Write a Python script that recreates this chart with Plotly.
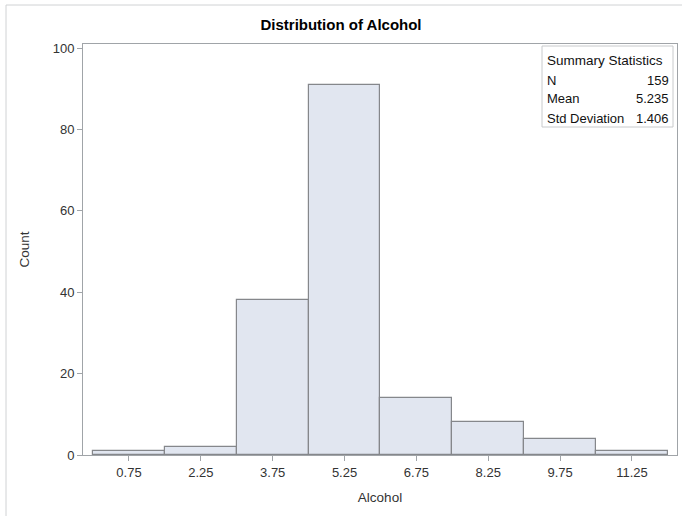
import plotly.graph_objects as go

bin_mids = [0.75, 2.25, 3.75, 5.25, 6.75, 8.25, 9.75, 11.25]
counts = [1, 2, 38, 91, 14, 8, 4, 1]
bin_width = 1.5
tick_labels = ["0.75", "2.25", "3.75", "5.25", "6.75", "8.25", "9.75", "11.25"]
stat_names = ["N", "Mean", "Std Deviation"]
stat_values = ["159", "5.235", "1.406"]

W, H = 682, 516
L, R, T, B = 83, 682 - 677, 44, 516 - 455
pw, ph = W - L - R, H - T - B

def px(x):
    return (x - L) / pw

def py(y):
    return (H - B - y) / ph

fig = go.Figure()
fig.add_trace(go.Bar(
    x=bin_mids, y=counts, width=[bin_width] * len(counts),
    marker=dict(color="#E1E6F0", line=dict(color="#85878B", width=1.2)),
    showlegend=False, hoverinfo="x+y",
))

font = "Liberation Sans, Arial, sans-serif"
axis_common = dict(
    showgrid=False, zeroline=False, showline=True, linecolor="#A0A4A8", linewidth=1,
    mirror=True, ticks="outside", ticklen=5, tickcolor="#A0A4A8",
    tickfont=dict(family=font, size=13, color="#333333"),
)
fig.update_xaxes(
    range=[-0.21, 12.19], tickvals=bin_mids, ticktext=tick_labels,
    title=dict(text="Alcohol", font=dict(family=font, size=13.5, color="#333333"), standoff=13),
    **axis_common,
)
fig.update_yaxes(
    range=[0, 101], tickvals=[0, 20, 40, 60, 80, 100],
    title=dict(text="Count", font=dict(family=font, size=13.5, color="#333333"), standoff=19),
    **axis_common,
)

annotations = []
# Summary statistics box contents
annotations.append(dict(
    x=px(545), y=py(61), xref="paper", yref="paper", text="Summary Statistics",
    showarrow=False, xanchor="left", yanchor="middle",
    font=dict(family=font, size=13.5, color="#111111"),
))
for i, (n, v) in enumerate(zip(stat_names, stat_values)):
    yy = 80 + i * 19
    annotations.append(dict(
        x=px(545), y=py(yy), xref="paper", yref="paper", text=n,
        showarrow=False, xanchor="left", yanchor="middle",
        font=dict(family=font, size=13, color="#111111"),
    ))
    annotations.append(dict(
        x=px(671), y=py(yy), xref="paper", yref="paper", text=v,
        showarrow=False, xanchor="right", yanchor="middle",
        font=dict(family=font, size=13, color="#111111"),
    ))

shapes = [
    dict(type="rect", xref="paper", yref="paper",
         x0=px(542), x1=px(673), y0=py(127), y1=py(46),
         line=dict(color="#C8CACC", width=1), fillcolor="rgba(0,0,0,0)"),
    # outer frame edges (top and left)
    dict(type="line", xref="paper", yref="paper",
         x0=px(6), x1=px(700), y0=py(5), y1=py(5),
         line=dict(color="#D0D2D4", width=1)),
    dict(type="line", xref="paper", yref="paper",
         x0=px(6), x1=px(6), y0=py(5), y1=py(530),
         line=dict(color="#D0D2D4", width=1)),
]

fig.update_layout(
    width=W, height=H,
    margin=dict(l=L, r=R, t=T, b=B, pad=0),
    paper_bgcolor="white", plot_bgcolor="white",
    title=dict(text="<b>Distribution of Alcohol</b>", x=px(380), xanchor="center",
               y=1 - 25 / H, yanchor="middle",
               font=dict(family=font, size=15, color="#000000")),
    annotations=annotations, shapes=shapes,
    bargap=0,
)

fig.write_html("out.html")
